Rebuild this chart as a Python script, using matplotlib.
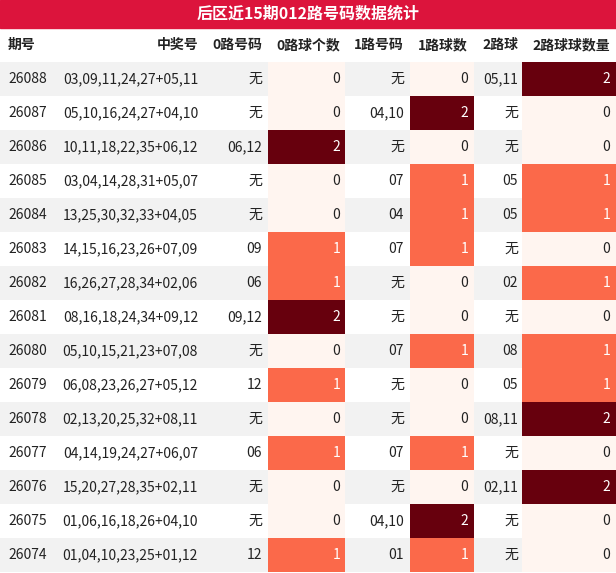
import matplotlib
matplotlib.use("Agg")
import matplotlib.pyplot as plt
from matplotlib.patches import Rectangle
from matplotlib import cm

plt.rcParams['font.family'] = ['Noto Sans CJK SC', 'DejaVu Sans']

title = "后区近15期012路号码数据统计"
headers = ["期号", "中奖号", "0路号码", "0路球个数", "1路号码", "1路球数", "2路球", "2路球球数量"]
periods = ["26088","26087","26086","26085","26084","26083","26082","26081","26080","26079","26078","26077","26076","26075","26074"]
numbers = ["03,09,11,24,27+05,11","05,10,16,24,27+04,10","10,11,18,22,35+06,12","03,04,14,28,31+05,07",
           "13,25,30,32,33+04,05","14,15,16,23,26+07,09","16,26,27,28,34+02,06","08,16,18,24,34+09,12",
           "05,10,15,21,23+07,08","06,08,23,26,27+05,12","02,13,20,25,32+08,11","04,14,19,24,27+06,07",
           "15,20,27,28,35+02,11","01,06,16,18,26+04,10","01,04,10,23,25+01,12"]
r0 = ["无","无","06,12","无","无","09","06","09,12","无","12","无","06","无","无","12"]
c0 = [0,0,2,0,0,1,1,2,0,1,0,1,0,0,1]
r1 = ["无","04,10","无","07","04","07","无","无","07","无","无","07","无","04,10","01"]
c1 = [0,2,0,1,1,1,0,0,1,0,0,1,0,2,1]
r2 = ["05,11","无","无","05","05","无","02","无","08","05","08,11","无","02,11","无","无"]
c2 = [2,0,0,1,1,0,1,0,1,1,2,0,2,0,0]

W, H = 616, 573
fig = plt.figure(figsize=(W/100, H/100), dpi=100)
ax = fig.add_axes([0, 0, 1, 1])
ax.set_xlim(0, W); ax.set_ylim(H, 0); ax.axis('off')

cmap = matplotlib.colormaps['Reds']
def col(v): return cmap(v / 2)

ax.add_patch(Rectangle((0, 0), W, 28, color='#DC143C'))
ax.text(W/2, 14, title, color='white', fontsize=11.5, fontweight='bold', ha='center', va='center')

hx = [(8,'left'),(198,'right'),(262,'right'),(340,'right'),(404,'right'),(468,'right'),(518,'right'),(610,'right')]
for (x, ha), h in zip(hx, headers):
    ax.text(x, 45, h, fontsize=10, fontweight='bold', ha=ha, va='center', color='#222222')

cells = [(268, 345), (410, 474), (522, 616)]
top, rh = 62, 34
for i in range(len(periods)):
    y = top + i * rh
    if i % 2 == 0:
        ax.add_patch(Rectangle((0, y), W, rh, color='#f2f2f2', lw=0))
    yc = y + rh / 2
    vals = [c0[i], c1[i], c2[i]]
    for (x0, x1), v in zip(cells, vals):
        ax.add_patch(Rectangle((x0, y), x1 - x0, rh, color=col(v), lw=0))
    texts = [periods[i], numbers[i], r0[i], str(c0[i]), r1[i], str(c1[i]), r2[i], str(c2[i])]
    for j, ((x, ha), t) in enumerate(zip(hx, texts)):
        c = '#222222'
        if j in (3, 5, 7):
            c = 'white' if int(t) > 0 else '#222222'
        ax.text(x, yc, t, fontsize=10, ha=ha, va='center', color=c)

fig.savefig("out.png", dpi=100)
